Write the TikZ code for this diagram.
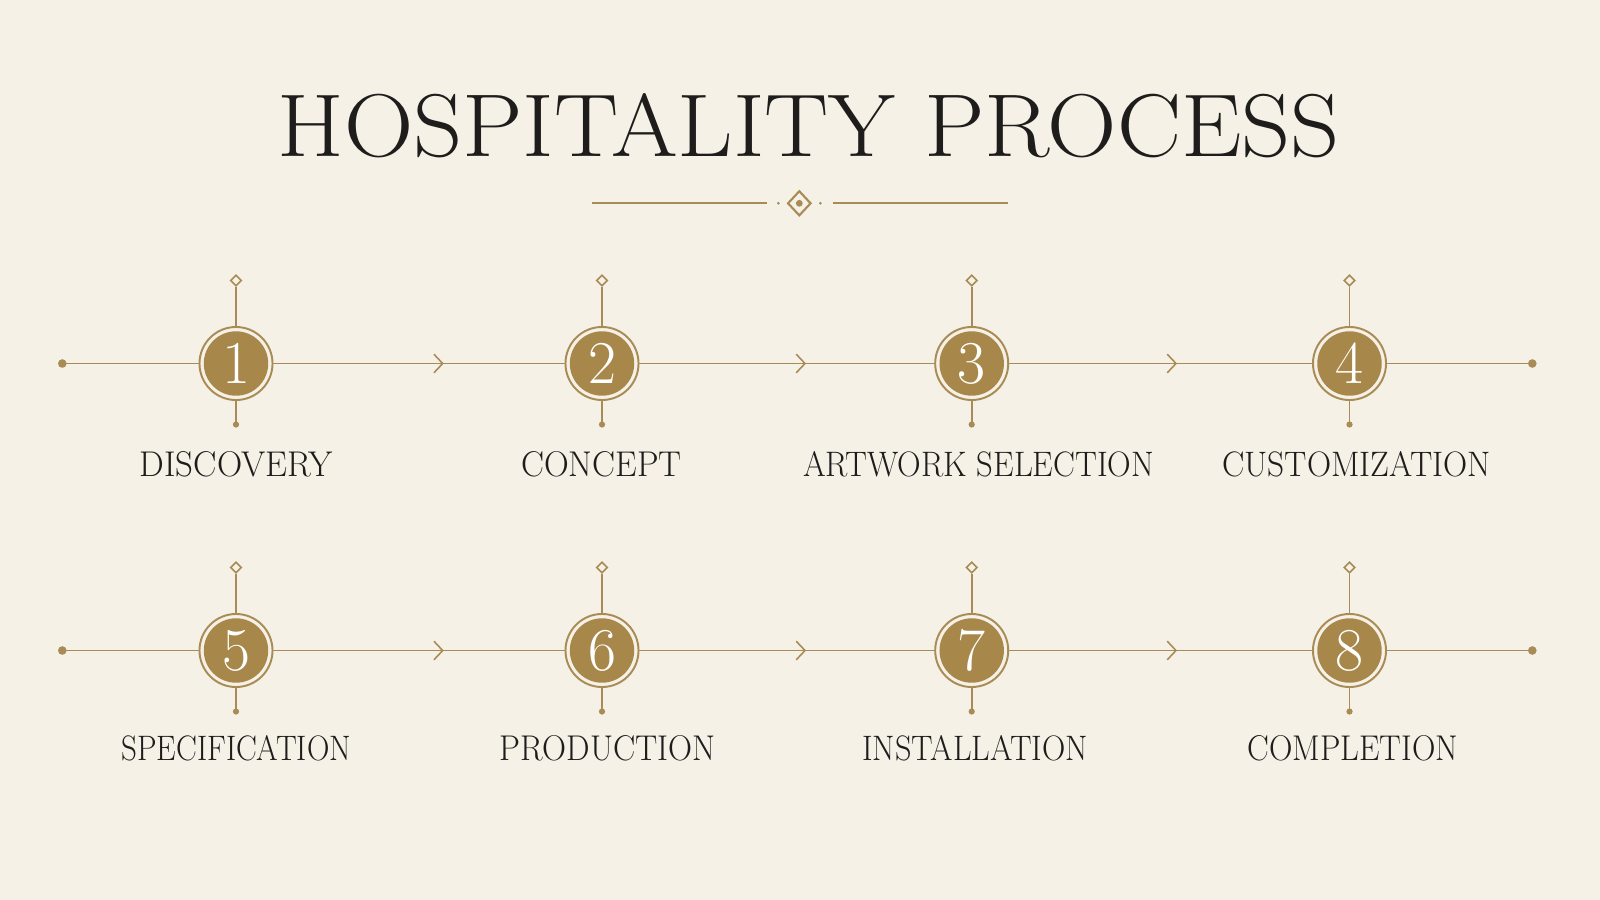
\documentclass[tikz,border=0pt]{standalone}
\usepackage{fontspec}
\usepackage{graphicx}
\usetikzlibrary{shapes.geometric}
\definecolor{paper}{HTML}{F5F1E7}
\definecolor{gold}{HTML}{A98B55}
\definecolor{golddisc}{HTML}{A8884A}
\definecolor{ink}{HTML}{1E1D1B}
\tikzset{
  gline/.style={draw=gold, line width=0.45pt},
  orn/.style={draw=gold, line width=0.6pt},
  chev/.style={draw=gold, line width=0.45pt, line cap=round, line join=miter},
  disc/.style={circle, draw=gold, line width=0.55pt, fill=paper, minimum size=0.73cm, inner sep=0pt,
    text=white, font=\fontsize{17.3}{19}\selectfont,
    path picture={\fill[golddisc] (path picture bounding box.center) circle (0.322cm);}},
  tipd/.style={diamond, draw=gold, fill=paper, line width=0.45pt, minimum width=0.11cm, minimum height=0.11cm, inner sep=0pt},
  enddot/.style={circle, fill=gold, minimum size=0.086cm, inner sep=0pt},
  stemdot/.style={circle, fill=gold, minimum size=0.062cm, inner sep=0pt},
  lbl/.style={anchor=base, inner sep=0pt, text=ink},
}
\newcommand{\lab}[2]{\resizebox{#1}{0.25cm}{\fontsize{24}{28}\selectfont\addfontfeatures{LetterSpace=3}#2}}
\begin{document}
\begin{tikzpicture}[x=0.01cm, y=-0.01cm]
\fill[paper] (0,0) rectangle (1600,900);
\useasboundingbox (0,0) rectangle (1600,900);

% title
\node[lbl] (title) at (808.7,156) {\resizebox{10.62cm}{0.63cm}{\fontsize{40}{44}\selectfont\addfontfeatures{LetterSpace=9}HOSPITALITY PROCESS}};

% ornament
\coordinate (ol1) at (591.7,203.3);
\coordinate (ol2) at (766.7,203.3);
\coordinate (or1) at (832.7,203.3);
\coordinate (or2) at (1008.3,203.3);
\draw[orn] (ol1) -- (ol2);
\draw[orn] (or1) -- (or2);
\node[diamond, draw=gold, line width=0.6pt, minimum width=0.234cm, minimum height=0.25cm, inner sep=0pt] (od) at (799.3,203.3) {};
\fill[gold] (od.center) circle (0.034cm);
\node[circle, fill=gold, minimum size=0.03cm, inner sep=0pt] (odl) at (778.3,203.3) {};
\node[circle, fill=gold, minimum size=0.03cm, inner sep=0pt] (odr) at (820.3,203.3) {};

% rows
\def\ya{363.5}
\def\yb{650.5}
\foreach \r/\y/\ta/\tb/\tc/\td in {1/\ya/1/2/3/4, 2/\yb/5/6/7/8}{
  \node[enddot] (s\r) at (62.3,\y) {};
  \node[enddot] (e\r) at (1532.3,\y) {};
  \foreach \i/\x/\t in {1/236/\ta, 2/602/\tb, 3/971.7/\tc, 4/1349.5/\td}{
    \node[disc] (c\r\i) at (\x,\y) {\t};
    \node[tipd] (d\r\i) at (\x,\y-83) {};
    \node[stemdot] (b\r\i) at (\x,\y+61) {};
    \draw[gline] (d\r\i.south) -- (c\r\i.north);
    \draw[gline] (c\r\i.south) -- (b\r\i.center);
  }
  \draw[gline] (s\r.center) -- (c\r1.west);
  \draw[gline] (c\r4.east) -- (e\r.center);
  \foreach \i/\j/\ax in {1/2/442.7, 2/3/805, 3/4/1176}{
    \coordinate (a\r\i) at (\ax,\y);
    \draw[gline] (c\r\i.east) -- (c\r\j.west);
    \draw[chev] ([shift={(-8.5,-9)}]a\r\i) -- (a\r\i) -- ([shift={(-8.5,9)}]a\r\i);
  }
}

% labels
\node[lbl] (l1) at (236.2,476) {\lab{1.929cm}{DISCOVERY}};
\node[lbl] (l2) at (601.5,476) {\lab{1.602cm}{CONCEPT}};
\node[lbl] (l3) at (978.6,476) {\lab{3.51cm}{ARTWORK SELECTION}};
\node[lbl] (l4) at (1356.6,476) {\lab{2.684cm}{CUSTOMIZATION}};
\node[lbl] (l5) at (236.2,760.5) {\lab{2.296cm}{SPECIFICATION}};
\node[lbl] (l6) at (607.7,760.5) {\lab{2.153cm}{PRODUCTION}};
\node[lbl] (l7) at (975,760.5) {\lab{2.255cm}{INSTALLATION}};
\node[lbl] (l8) at (1353,760.5) {\lab{2.102cm}{COMPLETION}};
\end{tikzpicture}
\end{document}
